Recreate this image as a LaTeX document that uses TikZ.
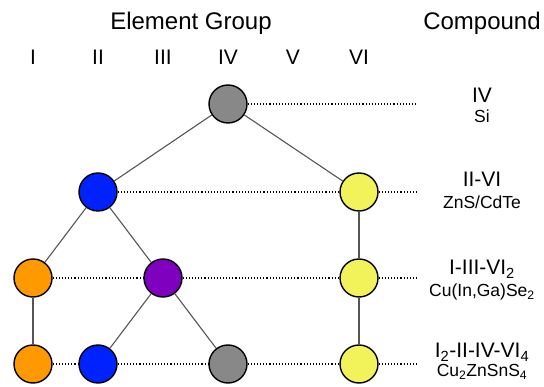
\documentclass[tikz,border=0pt]{standalone}
\usepackage{fontspec}
\setmainfont{Liberation Sans}
\definecolor{elgrey}{HTML}{888888}
\definecolor{elblue}{HTML}{0022FF}
\definecolor{elorange}{HTML}{FF9900}
\definecolor{elpurple}{HTML}{8000C0}
\definecolor{elyellow}{HTML}{F2F25A}
\definecolor{linkgrey}{HTML}{555555}
\begin{document}
\begin{tikzpicture}[x=1pt,y=-1pt,
  atom/.style={circle,draw=black,line width=1.4pt,minimum size=38pt,inner sep=0pt},
  link/.style={draw=linkgrey,line width=1.1pt},
  row/.style={draw=black,line width=1.1pt,dotted},
  head/.style={font=\fontsize{24}{28}\selectfont,anchor=base,inner sep=0pt},
  group/.style={font=\fontsize{21}{24}\selectfont,anchor=base,inner sep=0pt},
  formula/.style={font=\fontsize{21}{24}\selectfont,anchor=base,inner sep=0pt},
  example/.style={font=\fontsize{17.5}{20}\selectfont,anchor=base,inner sep=0pt}]
\useasboundingbox (0,0) rectangle (544,387);

% headings
\node[head] (hel) at (191,30) {Element Group};
\node[head] (hco) at (482,30) {Compound};
\node[group] (g1) at (33,64.5) {I};
\node[group] (g2) at (98,64.5) {II};
\node[group] (g3) at (163,64.5) {III};
\node[group] (g4) at (228,64.5) {IV};
\node[group] (g5) at (293,64.5) {V};
\node[group] (g6) at (359,64.5) {VI};

% row ends for the dotted guides
\coordinate (e1) at (417,104);
\coordinate (e2) at (417,192);
\coordinate (e3) at (417,278);
\coordinate (e4) at (417,364);

% atoms
\node[atom,fill=elgrey]   (a4)  at (228,104) {};
\node[atom,fill=elblue]   (b2)  at (98,192) {};
\node[atom,fill=elyellow] (b6)  at (359,192) {};
\node[atom,fill=elorange] (c1)  at (33,278) {};
\node[atom,fill=elpurple] (c3)  at (163,278) {};
\node[atom,fill=elyellow] (c6)  at (359,278) {};
\node[atom,fill=elorange] (d1)  at (33,364) {};
\node[atom,fill=elblue]   (d2)  at (98,364) {};
\node[atom,fill=elgrey]   (d4)  at (228,364) {};
\node[atom,fill=elyellow] (d6)  at (359,364) {};

% dotted guides along each row
\draw[row] (a4) -- (e1);
\draw[row] (b2) -- (b6);
\draw[row] (b6) -- (e2);
\draw[row] (c1) -- (c3);
\draw[row] (c3) -- (c6);
\draw[row] (c6) -- (e3);
\draw[row] (d1) -- (d2);
\draw[row] (d2) -- (d4);
\draw[row] (d4) -- (d6);
\draw[row] (d6) -- (e4);

% substitution links
\draw[link] (a4) -- (b2);
\draw[link] (a4) -- (b6);
\draw[link] (b2) -- (c1);
\draw[link] (b2) -- (c3);
\draw[link] (c1) -- (d1);
\draw[link] (c3) -- (d2);
\draw[link] (c3) -- (d4);
\draw[link] (b6) -- (c6);
\draw[link] (c6) -- (d6);

% compound labels
\node[formula] (f1) at (482,102.3) {IV};
\node[example] (x1) at (482,122.3) {Si};
\node[formula] (f2) at (482,187) {II-VI};
\node[example] (x2) at (482,208.3) {ZnS/CdTe};
\node[formula] (f3) at (482,275) {I-III-VI\textsubscript{2}};
\node[example] (x3) at (482,296.7) {Cu(In,Ga)Se\textsubscript{2}};
\node[formula] (f4) at (482,358) {I\textsubscript{2}-II-IV-VI\textsubscript{4}};
\node[example] (x4) at (482,377) {Cu\textsubscript{2}ZnSnS\textsubscript{4}};
\end{tikzpicture}
\end{document}
